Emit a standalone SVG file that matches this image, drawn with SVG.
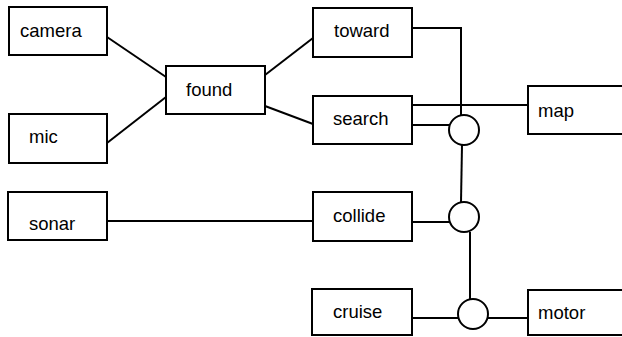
<svg xmlns="http://www.w3.org/2000/svg" width="622" height="337" viewBox="0 0 622 337">
<style>
.box{fill:#fff;stroke:#000;stroke-width:2}
.j{fill:#fff;stroke:#000;stroke-width:2}
.c{fill:none;stroke:#000;stroke-width:2}
text{font-family:"Liberation Sans",Arial,sans-serif;font-size:18.5px;fill:#000}
</style>
<rect width="622" height="337" fill="#fff"/>
<g id="connectors">
<line class="c" x1="107" y1="37" x2="166" y2="77"/>
<line class="c" x1="107" y1="143" x2="166" y2="97"/>
<line class="c" x1="265" y1="75" x2="313" y2="38"/>
<line class="c" x1="265" y1="106" x2="313" y2="124"/>
<polyline class="c" points="412,28 461,28 461,116"/>
<line class="c" x1="412" y1="105" x2="528" y2="105"/>
<line class="c" x1="412" y1="125" x2="449" y2="125"/>
<line class="c" x1="462" y1="145" x2="461" y2="202"/>
<line class="c" x1="107" y1="221" x2="313" y2="221"/>
<line class="c" x1="412" y1="222" x2="449" y2="222"/>
<line class="c" x1="470" y1="232" x2="470" y2="299"/>
<line class="c" x1="412" y1="318" x2="458" y2="318"/>
<line class="c" x1="488" y1="318" x2="528" y2="318"/>
</g>
<g id="camera"><rect class="box" x="9" y="7" width="98" height="48"/><text x="20" y="37">camera</text></g>
<g id="mic"><rect class="box" x="9" y="114" width="98" height="49"/><text x="29" y="143">mic</text></g>
<g id="found"><rect class="box" x="166" y="66" width="99" height="48"/><text x="186" y="96">found</text></g>
<g id="toward"><rect class="box" x="313" y="8" width="99" height="49"/><text x="334" y="37">toward</text></g>
<g id="search"><rect class="box" x="313" y="96" width="99" height="48"/><text x="333" y="125">search</text></g>
<g id="map"><rect class="box" x="528" y="86" width="100" height="48"/><text x="538" y="117">map</text></g>
<g id="sonar"><rect class="box" x="8" y="192" width="99" height="48"/><text x="29" y="230">sonar</text></g>
<g id="collide"><rect class="box" x="313" y="192" width="99" height="49"/><text x="333" y="222">collide</text></g>
<g id="cruise"><rect class="box" x="312" y="289" width="100" height="46"/><text x="333" y="318">cruise</text></g>
<g id="motor"><rect class="box" x="528" y="290" width="100" height="45"/><text x="538" y="319">motor</text></g>
<g id="junction1"><circle class="j" cx="464" cy="130" r="15"/></g>
<g id="junction2"><circle class="j" cx="464" cy="217" r="15"/></g>
<g id="junction3"><circle class="j" cx="473" cy="314" r="15"/></g>
</svg>
